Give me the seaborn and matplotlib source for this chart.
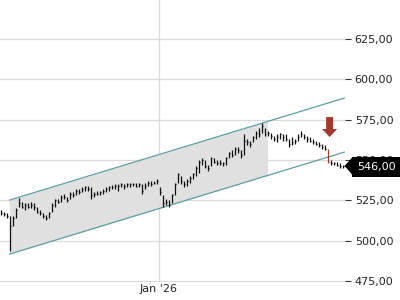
import numpy as np
import pandas as pd
import matplotlib
matplotlib.use("Agg")
import matplotlib.pyplot as plt
import seaborn as sns
from matplotlib.transforms import blended_transform_factory
from matplotlib.ticker import FuncFormatter, FixedLocator

# ---------------- data ----------------
lows = [516, 515, 514, 493.5, 509, 514, 521, 520, 519, 520,
        520, 519, 517, 516, 514, 513, 514, 518, 521, 523,
        524, 526, 524, 526, 527, 528, 529, 530, 531, 531,
        526, 527, 528, 528, 529, 530, 531, 532, 532, 531,
        533, 532, 533, 533, 534, 533, 533, 529, 532, 534,
        534, 535, 535, 528, 521, 522, 521, 523, 528, 536,
        535, 533, 534, 536, 538, 540, 542, 547, 545, 543,
        546, 548, 547, 547, 546, 547, 551, 552, 553, 554,
        551, 553, 559, 558, 561, 563, 564, 567, 565, 565,
        563, 562, 561, 563, 562, 562, 558, 559, 560, 562,
        564, 563, 561, 561, 560, 559, 558, 557, 556, 548,
        547, 547, 546, 545, 545]
highs = [519, 518, 517, 515, 515, 520, 526.5, 524, 523, 523,
         524, 523, 521, 519, 517, 516, 518, 523, 526, 526,
         528, 529, 527, 530, 530, 532, 532, 533, 534, 534,
         533, 530, 531, 531, 532, 533, 534, 534.5, 535, 535,
         536, 535, 536, 536, 536, 536, 536, 535, 536, 537,
         537, 537, 538, 533, 528, 526, 525, 529, 536, 542,
         540, 537, 538, 540, 542, 546, 550, 551, 550, 547,
         552, 551, 550, 550, 549, 552, 555, 556, 558, 558,
         556, 566, 563, 562, 565, 568, 570, 573, 570, 568,
         567, 565, 566, 567, 566, 566, 563, 564, 563, 566,
         568, 566, 565, 564, 563, 562, 561, 560, 559, 557,
         550, 549, 549, 548, 547]
closes = [517, 516.5, 515, 509, 514, 519, 523, 521, 522, 521,
          522, 521, 518, 517, 515, 514, 517, 522, 525, 524,
          527, 527, 525, 529, 528, 531, 530, 532, 533, 532,
          528, 529, 529, 530, 531, 532, 533, 533, 534, 534,
          535, 534, 535, 535, 535, 534, 535, 531, 534, 536,
          535, 536, 537, 530, 523, 524, 522, 528, 535, 541,
          537, 535, 537, 539, 541, 545, 549, 550, 546, 545,
          551, 549, 548, 548, 548, 551, 554, 553, 557, 556,
          553, 562, 561, 560, 564, 567, 566, 571, 566, 567,
          565, 563, 564, 566, 564, 563, 560, 561, 562, 564,
          566, 564, 563, 562, 561, 560, 559, 558, 557, 549,
          548, 548, 547, 546, 546]

signal_bar = 109
x_tick_pos = [52.67]
x_tick_labels = ["Jan '26"]
y_ticks = [475, 500, 525, 550, 575, 600, 625]

channel_x = [3, 114.67]
channel_upper = [525.1, 588.4]
channel_lower = [491.6, 554.9]
shade_x = [3, 89]
shade_upper = [525.1, 573.9]
shade_lower = [491.6, 540.4]

arrow_x = 109.7
arrow_top = 576.6
arrow_tip = 564.2
last_price = 546.0

# ---------------- style ----------------
BAR = "#111111"
RED = "#a33a2e"
TEAL = "#5a9fa6"
GRID = "#dadada"
SHADE = "#e0e0e0"

sns.set_theme(style="white")
plt.rcParams["font.family"] = ["DejaVu Sans"]

fig = plt.figure(figsize=(4, 3), dpi=100)
ax = fig.add_axes([0, 18 / 300, 345 / 400, 282 / 300])

df = pd.DataFrame({"i": np.arange(len(closes)), "low": lows, "high": highs, "close": closes})
colors = [RED if k == signal_bar else BAR for k in df["i"]]

# channel shading
ax.fill_between(shade_x, shade_lower, shade_upper, color=SHADE, lw=0, zorder=1)

# channel lines
ch = pd.DataFrame({"x": channel_x * 2,
                   "y": channel_upper + channel_lower,
                   "line": ["upper"] * 2 + ["lower"] * 2})
sns.lineplot(data=ch, x="x", y="y", units="line", estimator=None,
             color=TEAL, lw=0.9, ax=ax, zorder=2)

# OHLC-like bars
ax.vlines(df["i"], df["low"], df["high"], colors=colors, lw=0.9, zorder=3)
ax.hlines(df["close"], df["i"], df["i"] + 0.45, colors=colors, lw=0.9, zorder=3)

# signal arrow
ax.annotate("", xy=(arrow_x, arrow_tip), xytext=(arrow_x, arrow_top),
            arrowprops=dict(arrowstyle="simple,head_length=0.58,head_width=1.08,tail_width=0.5",
                            fc=RED, ec="none", mutation_scale=10, shrinkA=0, shrinkB=0),
            zorder=5)

# axes
ax.set_xlim(-1 / 6, 115 - 1 / 6)
ax.set_ylim(474.3, 649.2)
for s in ax.spines.values():
    s.set_visible(False)
ax.yaxis.tick_right()
ax.yaxis.set_major_locator(FixedLocator(y_ticks))
ax.yaxis.set_major_formatter(FuncFormatter(lambda v, p: f"{v:.2f}".replace(".", ",")))
ax.set_xticks(x_tick_pos)
ax.set_xticklabels(x_tick_labels)
ax.tick_params(axis="y", length=4, width=0.8, color="#333333", pad=3,
               labelsize=8, labelcolor="#222222", right=True, left=False)
ax.tick_params(axis="x", length=0, pad=1.5, labelsize=8, labelcolor="#222222")
ax.grid(True, color=GRID, lw=0.9)
ax.set_axisbelow(True)
ax.set_xlabel("")
ax.set_ylabel("")

# last price label
tr = blended_transform_factory(ax.transAxes, ax.transData)
ax.plot([352 / 345], [last_price], marker=[(-0.9, 0), (0, 1), (0, -1)], ms=12,
        color="black", transform=tr, clip_on=False, zorder=10)
ax.text(357 / 345, last_price - 0.6, f"{last_price:.2f}".replace(".", ","), transform=tr,
        ha="left", va="center", fontsize=8, color="white", zorder=11, clip_on=False,
        bbox=dict(boxstyle="square,pad=0.45", fc="black", ec="none"))

fig.savefig("out.png", dpi=100)
